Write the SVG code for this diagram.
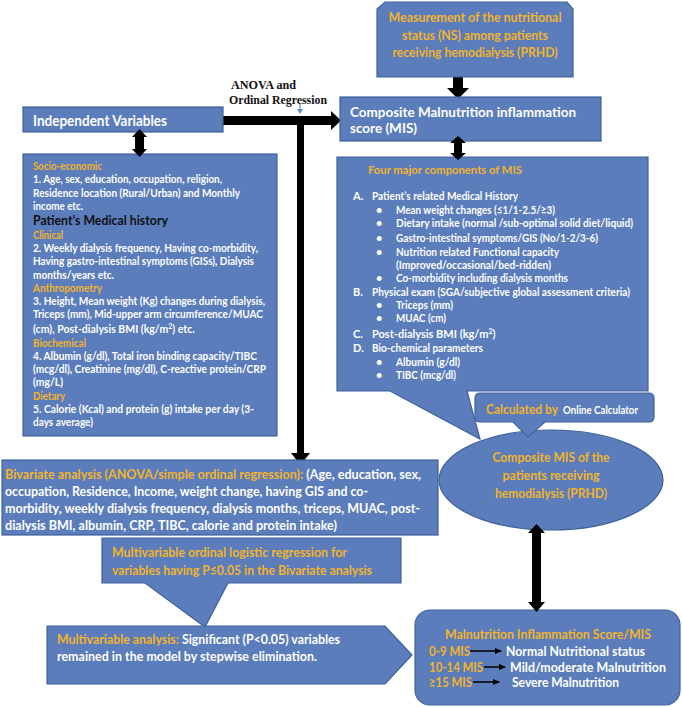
<svg xmlns="http://www.w3.org/2000/svg" width="682" height="707" viewBox="0 0 682 707">
<defs>
<style>
.box{fill:#5b7dbb;stroke:#3f629a;stroke-width:1.2}
text{font-family:Lato,"Liberation Sans",sans-serif;font-weight:bold;fill:#ffffff}
.o{fill:#f2b42a}
.k{fill:#111111}
.s10{font-size:10.5px}
.s11{font-size:11px}
.s13{font-size:13px}
.s14{font-size:14px}
.arr{fill:#000000}
.serif{font-family:"Liberation Serif","Times New Roman",serif;fill:#111111;font-size:13px}
</style>
<marker id="ah" markerWidth="7" markerHeight="6" refX="6" refY="3" orient="auto" markerUnits="userSpaceOnUse">
<path d="M0,0 L7,3 L0,6 Z" fill="#000"/>
</marker>
</defs>
<rect width="682" height="707" fill="#ffffff"/>

<g id="connectors">
<polygon class="arr" points="453,77 463,77 463,88 469,88 458,99 447,88 453,88"/>
<polygon class="arr" points="223,116 331,116 331,111 341,120.5 331,130 331,125 223,125"/>
<polygon class="arr" points="297,120 304,120 304,453 310,453 300.5,465 291,453 297,453"/>
<path d="M300,103 V109" stroke="#5b8fd6" stroke-width="1.2"/>
<polygon points="297,109 303,109 300,114" fill="#5b8fd6"/>
</g>

<g id="measurement">
<path class="box" d="M385,2 H567 L573,9 V77 H377 V9 Z"/>
<text class="o s13" x="475" y="22" text-anchor="middle" textLength="173" lengthAdjust="spacingAndGlyphs">Measurement of the nutritional</text>
<text class="o s13" x="475" y="39.5" text-anchor="middle" textLength="146" lengthAdjust="spacingAndGlyphs">status (NS) among patients</text>
<text class="o s13" x="475" y="57" text-anchor="middle" textLength="165" lengthAdjust="spacingAndGlyphs">receiving hemodialysis (PRHD)</text>
</g>

<g id="composite-box">
<rect class="box" x="340" y="97" width="261" height="44"/>
<text class="s14" x="350" y="117" textLength="226" lengthAdjust="spacingAndGlyphs">Composite Malnutrition inflammation</text>
<text class="s14" x="350" y="133" textLength="67" lengthAdjust="spacingAndGlyphs">score (MIS)</text>
</g>

<g id="independent">
<rect class="box" x="23" y="107" width="200" height="25"/>
<text x="33" y="126" font-size="14.5" textLength="134" lengthAdjust="spacingAndGlyphs">Independent Variables</text>
</g>

<g id="anova-label">
<text class="serif" x="231" y="89" textLength="65" lengthAdjust="spacingAndGlyphs">ANOVA and</text>
<text class="serif" x="229" y="104" textLength="98" lengthAdjust="spacingAndGlyphs">Ordinal Regression</text>
</g>

<g id="variables">
<rect class="box" x="23" y="154" width="254" height="282"/>
<text class="o s10" x="33" y="170" textLength="69" lengthAdjust="spacingAndGlyphs">Socio-economic</text>
<text class="s10" x="33" y="183" textLength="189" lengthAdjust="spacingAndGlyphs">1. Age, sex, education, occupation, religion,</text>
<text class="s10" x="33" y="197" textLength="207" lengthAdjust="spacingAndGlyphs">Residence location (Rural/Urban) and Monthly</text>
<text class="s10" x="33" y="210" textLength="50" lengthAdjust="spacingAndGlyphs">income etc.</text>
<text class="k" x="33" y="225" font-size="14" textLength="135" lengthAdjust="spacingAndGlyphs">Patient’s Medical history</text>
<text class="o s10" x="33" y="239" textLength="30" lengthAdjust="spacingAndGlyphs">Clinical</text>
<text class="s10" x="33" y="252" textLength="225" lengthAdjust="spacingAndGlyphs">2. Weekly dialysis frequency, Having co-morbidity,</text>
<text class="s10" x="33" y="265" textLength="221" lengthAdjust="spacingAndGlyphs">Having gastro-intestinal symptoms (GISs), Dialysis</text>
<text class="s10" x="33" y="279" textLength="81" lengthAdjust="spacingAndGlyphs">months/years etc.</text>
<text class="o s10" x="33" y="292" textLength="69" lengthAdjust="spacingAndGlyphs">Anthropometry</text>
<text class="s10" x="33" y="305" textLength="232" lengthAdjust="spacingAndGlyphs">3. Height, Mean weight (Kg) changes during dialysis,</text>
<text class="s10" x="33" y="318" textLength="230" lengthAdjust="spacingAndGlyphs">Triceps (mm), Mid-upper arm circumference/MUAC</text>
<text class="s10" x="33" y="333">(cm), Post-dialysis BMI (kg/m<tspan font-size="7" dy="-4">2</tspan><tspan dy="4">) etc.</tspan></text>
<text class="o s10" x="33" y="347" textLength="53" lengthAdjust="spacingAndGlyphs">Biochemical</text>
<text class="s10" x="33" y="360" textLength="224" lengthAdjust="spacingAndGlyphs">4. Albumin (g/dl), Total iron binding capacity/TIBC</text>
<text class="s10" x="33" y="373" textLength="233" lengthAdjust="spacingAndGlyphs">(mcg/dl), Creatinine (mg/dl), C-reactive protein/CRP</text>
<text class="s10" x="33" y="386" textLength="30" lengthAdjust="spacingAndGlyphs">(mg/L)</text>
<text class="o s10" x="33" y="400" textLength="32" lengthAdjust="spacingAndGlyphs">Dietary</text>
<text class="s10" x="33" y="413" textLength="221" lengthAdjust="spacingAndGlyphs">5.  Calorie (Kcal) and protein (g) intake per day (3-</text>
<text class="s10" x="33" y="426" textLength="60" lengthAdjust="spacingAndGlyphs">days average)</text>
</g>

<g id="components">
<path class="box" d="M337,157 H648 V391 H467 L480,439 L390,391 H337 Z"/>
<text class="o s11" x="368" y="174" font-size="12" textLength="154" lengthAdjust="spacingAndGlyphs">Four major components of MIS</text>
<text class="s11" x="353" y="200">A.</text>
<text class="s11" x="372" y="200" textLength="146" lengthAdjust="spacingAndGlyphs">Patient’s related Medical History</text>
<text class="s11" x="376" y="214">•</text>
<text class="s11" x="396" y="214" textLength="159" lengthAdjust="spacingAndGlyphs">Mean weight changes (≤1/1-2.5/≥3)</text>
<text class="s11" x="376" y="227">•</text>
<text class="s11" x="396" y="227" textLength="237" lengthAdjust="spacingAndGlyphs">Dietary intake (normal /sub-optimal solid diet/liquid)</text>
<text class="s11" x="376" y="242">•</text>
<text class="s11" x="396" y="242" textLength="202" lengthAdjust="spacingAndGlyphs">Gastro-intestinal symptoms/GIS (No/1-2/3-6)</text>
<text class="s11" x="376" y="256">•</text>
<text class="s11" x="396" y="256" textLength="163" lengthAdjust="spacingAndGlyphs">Nutrition related Functional capacity</text>
<text class="s11" x="396" y="269" textLength="155" lengthAdjust="spacingAndGlyphs">(Improved/occasional/bed-ridden)</text>
<text class="s11" x="376" y="282">•</text>
<text class="s11" x="396" y="282" textLength="172" lengthAdjust="spacingAndGlyphs">Co-morbidity including dialysis months</text>
<text class="s11" x="353" y="296">B.</text>
<text class="s11" x="372" y="296" textLength="258" lengthAdjust="spacingAndGlyphs">Physical exam (SGA/subjective global assessment criteria)</text>
<text class="s11" x="376" y="309">•</text>
<text class="s11" x="396" y="309" textLength="57" lengthAdjust="spacingAndGlyphs">Triceps (mm)</text>
<text class="s11" x="376" y="322">•</text>
<text class="s11" x="396" y="322" textLength="50" lengthAdjust="spacingAndGlyphs">MUAC (cm)</text>
<text class="s11" x="353" y="338">C.</text>
<text class="s11" x="372" y="338">Post-dialysis BMI (kg/m<tspan font-size="7" dy="-4">2</tspan><tspan dy="4">)</tspan></text>
<text class="s11" x="353" y="352">D.</text>
<text class="s11" x="372" y="352" textLength="111" lengthAdjust="spacingAndGlyphs">Bio-chemical parameters</text>
<text class="s11" x="376" y="366">•</text>
<text class="s11" x="396" y="366" textLength="64" lengthAdjust="spacingAndGlyphs">Albumin (g/dl)</text>
<text class="s11" x="376" y="379">•</text>
<text class="s11" x="396" y="379" textLength="60" lengthAdjust="spacingAndGlyphs">TIBC (mcg/dl)</text>
</g>

<g id="composite-mis">
<ellipse class="box" cx="551" cy="480" rx="112" ry="50"/>
<text class="o s14" x="551" y="462" text-anchor="middle" textLength="117" lengthAdjust="spacingAndGlyphs">Composite MIS of the</text>
<text class="o s14" x="551" y="480" text-anchor="middle" textLength="97" lengthAdjust="spacingAndGlyphs">patients receiving</text>
<text class="o s14" x="551" y="498" text-anchor="middle" textLength="112" lengthAdjust="spacingAndGlyphs">hemodialysis (PRHD)</text>
</g>

<g id="calculated">
<path class="box" d="M480,393 H649 Q654,393 654,398 V417 Q654,422 649,422 H545 L528,437 L513,422 H480 Q475,422 475,417 V398 Q475,393 480,393 Z"/>
<text class="o" x="486" y="414" font-size="13.5" textLength="72" lengthAdjust="spacingAndGlyphs">Calculated by</text>
<text x="563" y="414" font-size="10.5" textLength="75" lengthAdjust="spacingAndGlyphs">Online Calculator</text>
</g>

<g id="bivariate">
<rect class="box" x="2" y="460" width="436" height="75"/>
<text class="s13" x="5" y="479" textLength="416" lengthAdjust="spacingAndGlyphs"><tspan class="o">Bivariate analysis (ANOVA/simple ordinal regression):</tspan> (Age, education, sex,</text>
<text class="s13" x="5" y="496" textLength="363" lengthAdjust="spacingAndGlyphs">occupation, Residence, Income, weight change, having GIS and co-</text>
<text class="s13" x="5" y="513" textLength="415" lengthAdjust="spacingAndGlyphs">morbidity, weekly dialysis frequency, dialysis months, triceps, MUAC, post-</text>
<text class="s13" x="5" y="530" textLength="332" lengthAdjust="spacingAndGlyphs">dialysis BMI, albumin, CRP, TIBC, calorie and protein intake)</text>
</g>

<g id="multivariable-ordinal">
<path class="box" d="M102,538 H401 V583 H228 L205,627 L145,583 H102 Z"/>
<text class="o s13" x="112" y="557" textLength="235" lengthAdjust="spacingAndGlyphs">Multivariable ordinal logistic regression for</text>
<text class="o s13" x="112" y="575" textLength="260" lengthAdjust="spacingAndGlyphs">variables having P≤0.05 in the Bivariate analysis</text>
</g>

<g id="multivariable-analysis">
<polygon class="box" points="47,626 385,626 412,655 385,684 47,684"/>
<text class="s13" x="57" y="644" textLength="283" lengthAdjust="spacingAndGlyphs"><tspan class="o">Multivariable analysis:</tspan> Significant (P&lt;0.05) variables</text>
<text class="s13" x="57" y="661" textLength="260" lengthAdjust="spacingAndGlyphs">remained in the model by stepwise elimination.</text>
</g>

<g id="mis-categories">
<rect class="box" x="415" y="610" width="265" height="95" rx="15" ry="15"/>
<text class="o" x="548" y="639" font-size="12.5" text-anchor="middle" textLength="206" lengthAdjust="spacingAndGlyphs">Malnutrition Inflammation Score/MIS</text>
<text class="o" x="429" y="656" font-size="12.5" textLength="41" lengthAdjust="spacingAndGlyphs">0-9 MIS</text>
<text x="506" y="656" font-size="12.5" textLength="139" lengthAdjust="spacingAndGlyphs">Normal Nutritional status</text>
<text class="o" x="429" y="672" font-size="12.5" textLength="54" lengthAdjust="spacingAndGlyphs">10-14 MIS</text>
<text x="510" y="672" font-size="12.5" textLength="156" lengthAdjust="spacingAndGlyphs">Mild/moderate Malnutrition</text>
<text class="o" x="429" y="687" font-size="12.5" textLength="43" lengthAdjust="spacingAndGlyphs">≥15 MIS</text>
<text x="512" y="687" font-size="12.5" textLength="107" lengthAdjust="spacingAndGlyphs">Severe Malnutrition</text>
</g>

<g id="connectors-over">
<polygon class="arr" points="458,136 466,143 462,143 462,153 466,153 458,160 450,153 454,153 454,143 450,143"/>
<polygon class="arr" points="139.5,129 147,137 144,137 144,149 147,149 139.5,157 132,149 135,149 135,137 132,137"/>
<polygon class="arr" points="536.5,524 545,533 541,533 541,602 545,602 536.5,612 528,602 532,602 532,533 528,533"/>
<line x1="470" y1="651" x2="501" y2="651" stroke="#000" stroke-width="1.5" marker-end="url(#ah)"/>
<line x1="484" y1="667" x2="505" y2="667" stroke="#000" stroke-width="1.5" marker-end="url(#ah)"/>
<line x1="473" y1="682" x2="499" y2="682" stroke="#000" stroke-width="1.5" marker-end="url(#ah)"/>
</g>
</svg>
